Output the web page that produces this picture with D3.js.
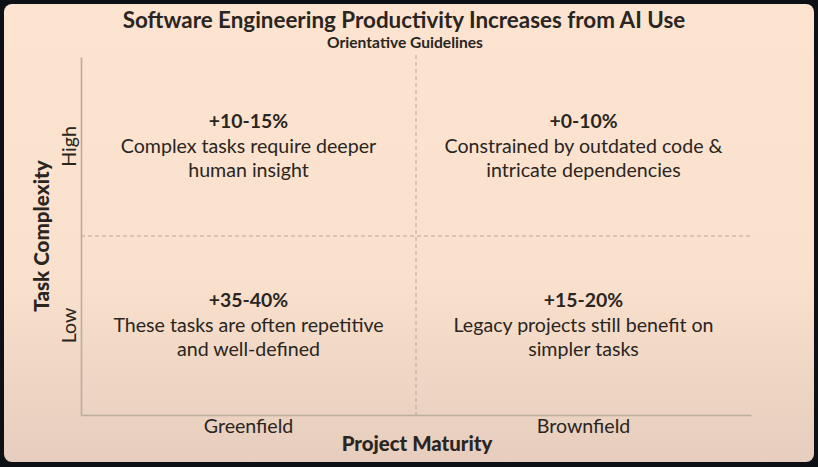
<!DOCTYPE html>
<html>
<head>
<meta charset="utf-8">
<script src="https://cdn.jsdelivr.net/npm/d3@7.9.0/dist/d3.min.js"></script>
<style>
  html, body { margin: 0; padding: 0; background: #0d1015; }
  svg { display: block; font-family: Lato, "Noto Sans", sans-serif; }
</style>
</head>
<body>
<svg id="chart" width="818" height="467"></svg>
<script>
// data
const maturity   = ['Greenfield', 'Brownfield'];
const complexity = ['High', 'Low'];
const gains      = ['+10-15%', '+0-10%', '+35-40%', '+15-20%'];
const notes      = [
  ['Complex tasks require deeper', 'human insight'],
  ['Constrained by outdated code &', 'intricate dependencies'],
  ['These tasks are often repetitive', 'and well-defined'],
  ['Legacy projects still benefit on', 'simpler tasks']
];

const W = 818, H = 467;
const m = { top: 57, right: 67, bottom: 52, left: 81 };
const ink = '#2a2521';

const svg = d3.select('#chart');

// panel background with soft gradient
const defs = svg.append('defs');
const grad = defs.append('linearGradient').attr('id', 'bg')
  .attr('x1', 0).attr('y1', 0).attr('x2', 0).attr('y2', 1);
grad.append('stop').attr('offset', '0%').attr('stop-color', '#fce4d0');
grad.append('stop').attr('offset', '60%').attr('stop-color', '#f9e1cd');
grad.append('stop').attr('offset', '100%').attr('stop-color', '#e6cdbd');

svg.append('rect')
  .attr('x', 4).attr('y', 4).attr('width', W - 8).attr('height', H - 9)
  .attr('rx', 8).attr('fill', 'url(#bg)');

const x = d3.scaleBand().domain(maturity).range([m.left, W - m.right]);
const y = d3.scaleBand().domain(complexity).range([m.top, H - m.bottom]);

const x0 = x.range()[0], x1 = x.range()[1];
const y0 = y.range()[0], y1 = y.range()[1];
const xm = (x0 + x1) / 2, ym = (y0 + y1) / 2;

// dashed quadrant dividers
svg.append('line')
  .attr('x1', xm).attr('x2', xm).attr('y1', y0 - 2).attr('y2', y1)
  .attr('stroke', '#b9a899').attr('stroke-width', 1).attr('stroke-dasharray', '4,3');
svg.append('line')
  .attr('x1', x0).attr('x2', x1 + 1).attr('y1', ym).attr('y2', ym)
  .attr('stroke', '#b9a899').attr('stroke-width', 1).attr('stroke-dasharray', '4,3');

// axes
const xAxis = svg.append('g')
  .attr('transform', `translate(0,${y1})`)
  .call(d3.axisBottom(x).tickSize(0).tickPadding(18));
const yAxis = svg.append('g')
  .attr('transform', `translate(${x0},0)`)
  .call(d3.axisLeft(y).tickSize(0).tickPadding(0));

[xAxis, yAxis].forEach(g => {
  g.select('.domain').attr('stroke', '#bcac9c').attr('stroke-width', 1.6);
  g.selectAll('text').attr('fill', ink).attr('font-family', 'Lato, sans-serif')
    .attr('font-size', 19.6);
});
xAxis.selectAll('text').attr('dy', 0);

yAxis.selectAll('.tick text')
  .attr('x', 0).attr('dy', 0)
  .attr('text-anchor', 'middle')
  .attr('transform', 'translate(-5,0) rotate(-90)');

// axis titles
svg.append('text')
  .attr('x', xm + 1).attr('y', 451)
  .attr('text-anchor', 'middle').attr('fill', ink)
  .attr('font-size', 20.4).attr('font-weight', 900)
  .text('Project Maturity');

svg.append('text')
  .attr('transform', `translate(49,${ym}) rotate(-90)`)
  .attr('text-anchor', 'middle').attr('fill', ink)
  .attr('font-size', 20.6).attr('font-weight', 900)
  .text('Task Complexity');

// title
svg.append('text')
  .attr('x', 404).attr('y', 28)
  .attr('text-anchor', 'middle').attr('fill', ink)
  .attr('font-size', 22.4).attr('font-weight', 700)
  .text('Software Engineering Productivity Increases from AI Use');
svg.append('text')
  .attr('x', 405).attr('y', 48)
  .attr('text-anchor', 'middle').attr('fill', ink)
  .attr('font-size', 15.6).attr('font-weight', 700)
  .text('Orientative Guidelines');

// quadrant labels
const cells = gains.map((g, i) => ({
  gain: g,
  lines: notes[i],
  mx: maturity[i % 2],
  cy: complexity[Math.floor(i / 2)]
}));

const q = svg.selectAll('g.cell')
  .data(cells)
  .enter().append('g')
    .attr('class', 'cell')
    .attr('transform', d => `translate(${x(d.mx) + x.bandwidth() / 2},${y(d.cy) + y.bandwidth() / 2})`);

q.append('text')
  .attr('y', -19).attr('text-anchor', 'middle').attr('fill', ink)
  .attr('font-size', 19.4).attr('font-weight', 700)
  .text(d => d.gain);

q.each(function(d) {
  d3.select(this).selectAll('text.line')
    .data(d.lines)
    .enter().append('text')
      .attr('class', 'line')
      .attr('y', (_, j) => 6 + j * 24)
      .attr('text-anchor', 'middle').attr('fill', ink)
      .attr('font-size', 19.6)
      .text(t => t);
});
</script>
</body>
</html>
